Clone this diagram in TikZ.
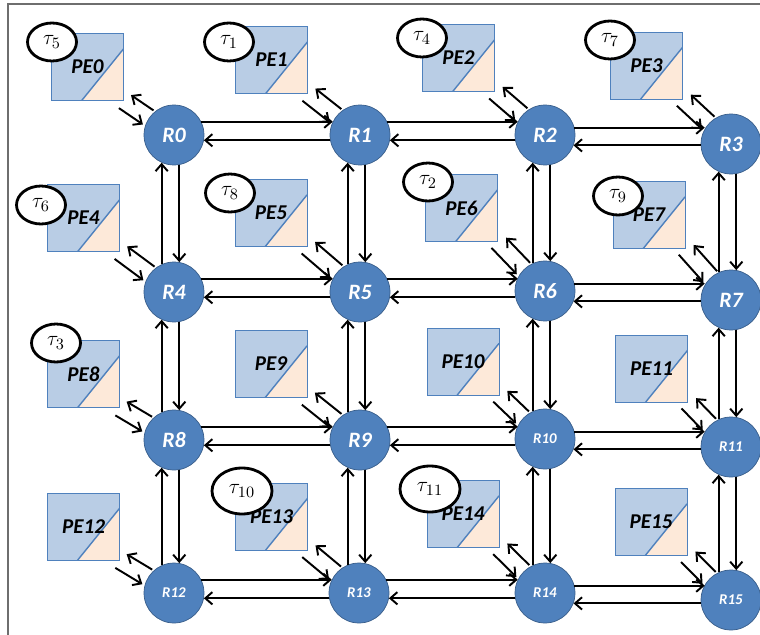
\documentclass[tikz,border=0pt]{standalone}
\usepackage{fontspec}
\setmainfont{Carlito}
\usetikzlibrary{calc,shapes.geometric,arrows.meta}

\definecolor{rfill}{RGB}{79,129,189}
\definecolor{rline}{RGB}{56,93,138}
\definecolor{peblue}{RGB}{185,205,229}
\definecolor{pepeach}{RGB}{253,233,217}
\definecolor{peline}{RGB}{79,129,189}
\definecolor{framegray}{RGB}{110,110,110}

\begin{document}
\begin{tikzpicture}[x=0.02cm, y=-0.02cm,
  router/.style={circle, draw=rline, fill=rfill, minimum size=1.2cm, inner sep=0pt,
    text=white, font=\fontsize{12.5}{14}\selectfont\bfseries\itshape},
  smallrouter/.style={router, font=\fontsize{8.5}{10}\selectfont\bfseries\itshape},
  pe/.style={draw=peline, fill=peblue, minimum width=1.44cm, minimum height=1.34cm,
    inner sep=0pt, font=\fontsize{12}{14}\selectfont\bfseries\itshape,
    path picture={
      \fill[pepeach] (path picture bounding box.south east)
        -- ($(path picture bounding box.south west)!.42!(path picture bounding box.south east)$)
        -- ($(path picture bounding box.north east)!.23!(path picture bounding box.south east)$)
        -- cycle;
      \draw[peline, line width=.8pt]
        ($(path picture bounding box.south west)!.42!(path picture bounding box.south east)$)
        -- ($(path picture bounding box.north east)!.23!(path picture bounding box.south east)$);
    }},
  task/.style={ellipse, draw, line width=1.6pt, fill=white, minimum width=.98cm,
    minimum height=.76cm, inner sep=0pt, font=\fontsize{13}{14}\selectfont},
  bigtask/.style={task, minimum width=1.2cm, minimum height=.92cm},
  link/.style={line width=1.1pt, -{Straight Barb[length=4pt,width=7pt]}},
  pelink/.style={link, shorten >=18pt},
  pelinkback/.style={line width=1.1pt, {Straight Barb[length=4pt,width=7pt]}-,
    shorten <=1.5pt, shorten >=17.5pt}]

  \useasboundingbox (0,0) rectangle (760,635);
  \draw[framegray, line width=1pt] (8,4) rectangle (775,650);

  % Processing elements
  \foreach \i/\x/\y in {0/87.5/67, 1/271.5/60, 2/458.5/58, 3/646.5/65.5,
      4/83.5/218, 5/271/213, 6/461.5/208, 7/649/215,
      8/83.5/374, 9/271/364, 10/463/361.5, 11/651.5/368.5,
      12/83.5/526.5, 13/271.5/516.5, 14/463/514, 15/651/522}
    \node[pe] (P\i) at (\x,\y) {PE\i};

  % Tasks
  \foreach \n/\x/\y in {5/52/42, 1/229/42, 4/422/38, 7/610/40,
      6/41/205, 8/230/193, 2/428/182, 9/618/196, 3/56/343}
    \node[task] (T\n) at (\x,\y) {$\tau_{\n}$};
  \node[bigtask] (T10) at (242,491) {$\tau_{10}$};
  \node[bigtask] (T11) at (430,489) {$\tau_{11}$};

  % Routers
  \foreach \n/\x/\y in {0/174/135, 1/360/135, 2/545/135, 3/731/144,
      4/174/292, 5/360/292, 6/545/291, 7/731/300,
      8/174/440, 9/360/440}
    \node[router] (R\n) at (\x,\y) {R\n};
  \foreach \n/\x/\y in {10/545/439, 11/731/447,
      12/174/593, 13/359/593, 14/545/593, 15/731/600}
    \node[smallrouter] (R\n) at (\x,\y) {R\n};

  % Horizontal links
  \foreach \a/\b/\ua/\ub/\la/\lb in {0/1/26/154/350/190, 1/2/26/154/350/190,
      4/5/26/154/350/190, 5/6/26/154/350/190,
      8/9/26/154/350/190, 9/10/26/154/350/190,
      12/13/26/154/350/190, 13/14/26/154/350/190,
      2/3/14/150/340/184, 6/7/14/150/340/184,
      10/11/14/150/340/184, 14/15/14/150/340/184}{
    \draw[link] (R\a.\ua) -- (R\a.\ua -| R\b.\ub);
    \draw[link] (R\a.\la -| R\b.\lb) -- (R\a.\la);
  }

  % Vertical links
  \foreach \a/\b in {0/4, 4/8, 8/12, 1/5, 5/9, 9/13,
      2/6, 6/10, 10/14, 3/7, 7/11, 11/15}{
    \draw[link] (R\a.246 |- R\b.114) -- (R\a.246);
    \draw[link] (R\a.280) -- (R\a.280 |- R\b.80);
  }

  % PE <-> router links
  \foreach \i in {0,...,15}{
    \draw[pelink] ($(P\i.south east)!5pt!-90:(R\i)$) -- ($(R\i)!5pt!90:(P\i.south east)$);
    \draw[pelinkback] ($(P\i.south east)!5pt!90:(R\i)$) -- ($(R\i)!5pt!-90:(P\i.south east)$);
  }
\end{tikzpicture}
\end{document}
